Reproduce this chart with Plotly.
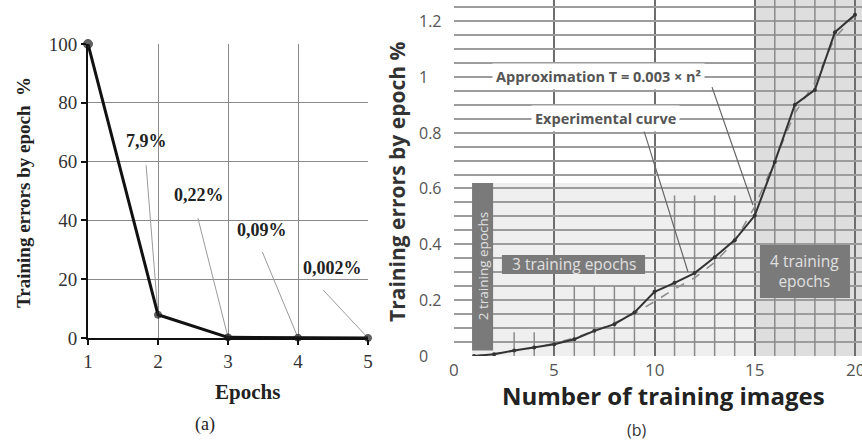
import plotly.graph_objects as go

W, H = 862, 441

# ---------------- Panel (a) data ----------------
epochs = [1, 2, 3, 4, 5]
epoch_err = [100, 7.9, 0.22, 0.09, 0.002]
a_xticks = [1, 2, 3, 4, 5]
a_yticks = [0, 20, 40, 60, 80, 100]
a_labels = ["7,9%", "0,22%", "0,09%", "0,002%"]
a_label_x = [1.84, 2.59, 3.49, 4.49]
a_label_y = [67.0, 48.6, 36.7, 23.8]
a_leader_x = [1.83, 2.57, 3.49, 4.36]
a_leader_y = [58.8, 40.8, 29.3, 16.3]

# ---------------- Panel (b) data ----------------
n_images = list(range(1, 21))
experimental = [0.0, 0.006, 0.02, 0.03, 0.042, 0.06, 0.09, 0.114, 0.156, 0.23,
                0.262, 0.297, 0.354, 0.415, 0.503, 0.695, 0.90, 0.953, 1.16, 1.222]
approximation = [0.0, 0.008, 0.018, 0.03, 0.045, 0.065, 0.09, 0.118, 0.152, 0.195,
                 0.24, 0.28, 0.335, 0.41, 0.535, 0.70, 0.87, 0.98, 1.14, 1.22]
b_xticks = [0, 5, 10, 15, 20]
b_xtick_text = ["0", "5", "10", "15", "20"]
b_yticks = [0, 0.2, 0.4, 0.6, 0.8, 1.0, 1.2]
b_ytick_text = ["0", "0.2", "0.4", "0.6", "0.8", "1", "1.2"]
b_minor_x = [3, 4, 6, 7, 8, 9, 11, 12, 13, 14, 16, 17, 18, 19]
b_minor_top = [0.085, 0.085, 0.25, 0.25, 0.25, 0.25, 0.575, 0.575, 0.575, 0.575,
               1.3, 1.3, 1.3, 1.3]
# shaded zones: [x0, x1, y0, y1]
zone_light = [0.9, 15, 0, 0.62]
zone_dark = [15, 20.4, 0, 1.3]
# epoch label boxes: (text, x0, x1, y0, y1, angle)
epoch_boxes = [
    ("2 training epochs", 0.9, 1.95, 0.02, 0.62, -90),
    ("3 training epochs", 2.39, 9.53, 0.294, 0.362, 0),
    ("4 training<br>epochs", 15.26, 19.75, 0.208, 0.398, 0),
]
curve_labels = ["Approximation T = 0.003 × n²", "Experimental curve"]
curve_label_x = [7.2, 7.55]
curve_label_y = [1.0, 0.85]
curve_leader_x0 = [12.87, 9.43]
curve_leader_y0 = [0.963, 0.817]
curve_leader_x1 = [14.91, 11.67]
curve_leader_y1 = [0.541, 0.301]

SERIF = "Liberation Serif"
SANS = "Open Sans"

fig = go.Figure()

# ---- panel (a) traces ----
lx, ly = [], []
for x0, y0, x1, y1 in zip(a_leader_x, a_leader_y, epochs[1:], epoch_err[1:]):
    lx += [x0, x1, None]
    ly += [y0, y1, None]
fig.add_trace(go.Scatter(x=lx, y=ly, mode="lines", line=dict(color="#9a9a9a", width=1),
                         xaxis="x", yaxis="y", hoverinfo="skip", showlegend=False))
fig.add_trace(go.Scatter(x=epochs, y=epoch_err, mode="lines+markers",
                         line=dict(color="#111", width=3),
                         marker=dict(color="#222", size=[9, 7, 7, 7, 7]),
                         xaxis="x", yaxis="y", showlegend=False, cliponaxis=False))

# ---- panel (b) traces ----
mx, my = [], []
for x, t in zip(b_minor_x, b_minor_top):
    mx += [x, x, None]
    my += [0, t, None]
fig.add_trace(go.Scatter(x=mx, y=my, mode="lines", line=dict(color="#8a8a8a", width=1.5),
                         xaxis="x2", yaxis="y2", hoverinfo="skip", showlegend=False))
cx, cy = [], []
for x0, y0, x1, y1 in zip(curve_leader_x0, curve_leader_y0, curve_leader_x1, curve_leader_y1):
    cx += [x0, x1, None]
    cy += [y0, y1, None]
fig.add_trace(go.Scatter(x=cx, y=cy, mode="lines", line=dict(color="#666", width=1.2),
                         xaxis="x2", yaxis="y2", hoverinfo="skip", showlegend=False))
fig.add_trace(go.Scatter(x=n_images, y=approximation, mode="lines",
                         line=dict(color="#8c8c8c", width=1.5, dash="dash"),
                         xaxis="x2", yaxis="y2", showlegend=False))
fig.add_trace(go.Scatter(x=n_images, y=experimental, mode="lines+markers",
                         line=dict(color="#333", width=2),
                         marker=dict(color="#333", size=4),
                         xaxis="x2", yaxis="y2", showlegend=False))

shapes = [
    dict(type="rect", xref="x2", yref="y2", x0=zone_light[0], x1=zone_light[1],
         y0=zone_light[2], y1=zone_light[3], fillcolor="#efefef", line=dict(width=0), layer="below"),
    dict(type="rect", xref="x2", yref="y2", x0=zone_dark[0], x1=zone_dark[1],
         y0=zone_dark[2], y1=zone_dark[3], fillcolor="#dedede", line=dict(width=0), layer="below"),
]
annotations = []
for text, x0, x1, y0, y1, ang in epoch_boxes:
    shapes.append(dict(type="rect", xref="x2", yref="y2", x0=x0, x1=x1, y0=y0, y1=y1,
                       fillcolor="#7a7a7a", line=dict(width=0), layer="above"))
    annotations.append(dict(xref="x2", yref="y2", x=(x0 + x1) / 2, y=(y0 + y1) / 2,
                            xanchor="center", yanchor="middle",
                            text=text, showarrow=False, textangle=ang,
                            font=dict(family=SANS, size=15.5 if ang == 0 else 13.5, color="#e0e0e0")))

for t, x, y in zip(curve_labels, curve_label_x, curve_label_y):
    annotations.append(dict(xref="x2", yref="y2", x=x, y=y, text="<b>%s</b>" % t, showarrow=False,
                            xanchor="center", yanchor="middle",
                            bgcolor="white", borderpad=3,
                            font=dict(family=SANS, size=14.5, color="#555")))

for v, t in zip(b_yticks, b_ytick_text):
    annotations.append(dict(xref="paper", yref="y2", x=417 / W, y=v, text=t, showarrow=False,
                            xanchor="left", yanchor="middle",
                            font=dict(family=SANS, size=16, color="#555")))

for v, t in zip(b_xticks, b_xtick_text):
    annotations.append(dict(xref="x2", yref="paper", x=v, y=1 - 369 / H, text=t, showarrow=False,
                            xanchor="center", yanchor="middle",
                            font=dict(family=SANS, size=17, color="#555")))

for t, x, y in zip(a_labels, a_label_x, a_label_y):
    annotations.append(dict(xref="x", yref="y", x=x, y=y, text="<b>%s</b>" % t, showarrow=False,
                            xanchor="center", yanchor="middle",
                            font=dict(family=SERIF, size=18, color="#222")))

# titles and panel captions
titles = [
    ("<b>Training errors by epoch  %</b>", 23, 193, -90, SERIF, 19, "#222"),
    ("<b>Epochs</b>", 247, 392, 0, SERIF, 21, "#222"),
    ("(a)", 205, 424, 0, SERIF, 18, "#222"),
    ("<b>Training errors by epoch %</b>", 397, 182, -90, SANS, 21, "#333"),
    ("<b>Number of training images</b>", 663, 395, 0, SANS, 24, "#222"),
    ("(b)", 637, 430, 0, SANS, 16, "#333"),
]
for t, px, py, ang, fam, sz, col in titles:
    annotations.append(dict(xref="paper", yref="paper", x=px / W, y=1 - py / H, text=t,
                            textangle=ang, showarrow=False, xanchor="center", yanchor="middle",
                            font=dict(family=fam, size=sz, color=col)))

fig.update_layout(
    width=W, height=H, margin=dict(l=0, r=0, t=0, b=0, autoexpand=False),
    paper_bgcolor="white", plot_bgcolor="white",
    xaxis=dict(domain=[88 / W, 368 / W], range=[1, 5], tickvals=a_xticks, automargin=False,
               showgrid=True, gridcolor="#8a8a8a", gridwidth=1,
               showline=True, linecolor="#111", linewidth=2,
               ticks="outside", ticklen=5, tickcolor="#111", tickwidth=1.5,
               tickfont=dict(family=SERIF, size=19, color="#333"), zeroline=False),
    yaxis=dict(domain=[(H - 338) / H, (H - 44) / H], range=[0, 100], tickvals=a_yticks, automargin=False,
               showgrid=True, gridcolor="#8a8a8a", gridwidth=1,
               showline=True, linecolor="#111", linewidth=2,
               ticks="outside", ticklen=5, tickcolor="#111", tickwidth=1.5,
               tickfont=dict(family=SERIF, size=19, color="#333"), zeroline=False),
    xaxis2=dict(domain=[454 / W, 1.0], range=[0, (W - 454) / 20.05], tickvals=b_xticks,
                anchor="y2", automargin=False, showgrid=True, gridcolor="#6e6e6e", gridwidth=2,
                showticklabels=False, showline=False, zeroline=False, ticks=""),
    yaxis2=dict(domain=[(H - 356) / H, 1.0], range=[0, 356 / 279.2], dtick=0.05,
                anchor="x2", automargin=False, showgrid=True, gridcolor="#9c9c9c", gridwidth=1.5,
                showticklabels=False, showline=False, zeroline=False, ticks=""),
    shapes=shapes, annotations=annotations,
)

fig.write_html("out.html", config={"displayModeBar": False},
               post_script="document.body.style.margin='0';document.body.style.overflow='hidden';")
